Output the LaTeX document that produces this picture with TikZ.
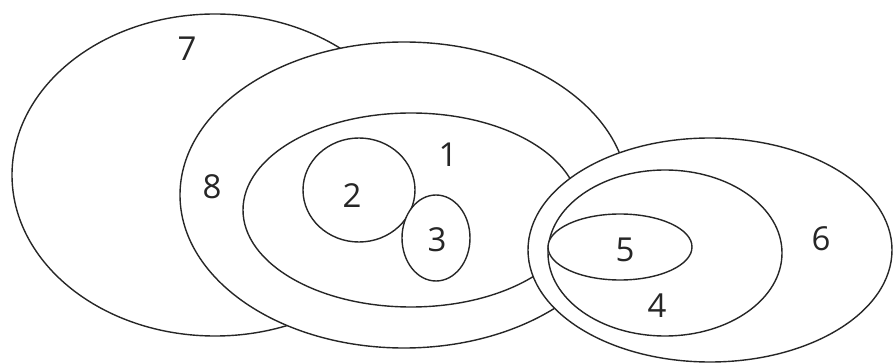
\documentclass[tikz,border=0pt]{standalone}
\usepackage{fontspec}
\setmainfont{Open Sans}
\begin{document}
\begin{tikzpicture}[x=1pt,y=-1pt,
  setshape/.style={draw=black!85,fill=white,line width=1.4pt},
  lbl/.style={font=\fontsize{33}{36}\selectfont,text=black!85,inner sep=0pt}]
\useasboundingbox (0,0) rectangle (894,363);
% ellipses, back to front
\filldraw[setshape] (215,175) ellipse [x radius=203, y radius=161];
\filldraw[setshape] (404,195) ellipse [x radius=224, y radius=153];
\filldraw[setshape] (411,210) ellipse [x radius=168, y radius=97];
\filldraw[setshape] (359,190) ellipse [x radius=56, y radius=52];
\filldraw[setshape] (436,238) ellipse [x radius=34, y radius=43];
\filldraw[setshape] (710,250) ellipse [x radius=182, y radius=112];
\filldraw[setshape] (665,253) ellipse [x radius=117, y radius=83];
\filldraw[setshape] (620,247) ellipse [x radius=72, y radius=33];
% labels
\node[lbl] (l7) at (187,49) {7};
\node[lbl] (l8) at (212,187) {8};
\node[lbl] (l2) at (352,196) {2};
\node[lbl] (l1) at (448,155) {1};
\node[lbl] (l3) at (437,240) {3};
\node[lbl] (l5) at (625,250) {5};
\node[lbl] (l4) at (657,306) {4};
\node[lbl] (l6) at (821,239) {6};
\end{tikzpicture}
\end{document}
